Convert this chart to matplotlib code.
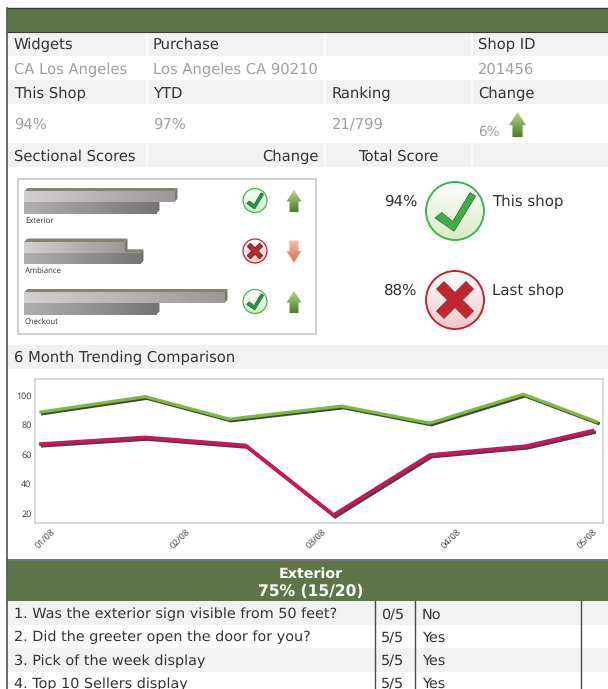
import numpy as np
import matplotlib
matplotlib.use("Agg")
import matplotlib.pyplot as plt
from matplotlib.colors import LinearSegmentedColormap
from matplotlib.patches import Circle, Polygon, Rectangle
import matplotlib.patheffects as pe

W, H = 608, 689

# header table
row1 = ["Widgets", "Purchase", "Shop ID"]
row2 = ["CA Los Angeles", "Los Angeles CA 90210", "201456"]
row3 = ["This Shop", "YTD", "Ranking", "Change"]
row4 = ["94%", "97%", "21/799"]
change_value = "6%"

# sectional scores
sections = ["Exterior", "Ambiance", "Checkout"]
this_scores = [75, 50, 100]
last_scores = [66, 58, 66]
section_ok = [True, False, True]

# 6 month trend, x in months after 01/08
months = ["01/08", "02/08", "03/08", "04/08", "05/08"]
green_x = [-0.03, 0.74, 1.36, 2.19, 2.84, 3.53, 4.07]
green_y = [88.5, 98.9, 83.7, 92.5, 81.0, 100.5, 82.0]
pink_x = [-0.03, 0.74, 1.48, 2.13, 2.84, 3.55, 4.04]
pink_y = [66.9, 71.4, 66.0, 19.0, 59.5, 65.5, 75.9]
trend_ticks = [20, 40, 60, 80, 100]

# question table
questions = ["1. Was the exterior sign visible from 50 feet?",
             "2. Did the greeter open the door for you?",
             "3. Pick of the week display",
             "4. Top 10 Sellers display"]
points = ["0/5", "5/5", "5/5", "5/5"]
answers = ["No", "Yes", "Yes", "Yes"]

GREEN = "#5e7547"
STRIPE = "#f1f2f4"
DARK = "#333333"
MUTED = "#a0a0a0"
FS = 10.6

CHECK = [(-.69, .24), (-.46, .05), (-.08, .36), (.52, -.64), (.71, -.51), (-.03, .70)]
CROSS = [(-.64, -.38), (-.38, -.64), (0, -.26), (.38, -.64), (.64, -.38), (.26, 0),
         (.64, .38), (.38, .64), (0, .26), (-.38, .64), (-.64, .38), (-.26, 0)]
UP = [(0, -1), (1, .05), (.6, .05), (.6, 1), (-.6, 1), (-.6, .05), (-1, .05)]


def gradient(ax, patch, extent, c1, c2, horizontal=False, zorder=2):
    cmap = LinearSegmentedColormap.from_list("g", [c1, c2])
    g = np.linspace(0, 1, 64).reshape(-1, 1)
    if horizontal:
        g = g.T
    im = ax.imshow(g, cmap=cmap, extent=extent, aspect="auto", origin="upper", zorder=zorder)
    ax.add_patch(patch)
    patch.set_facecolor("none")
    patch.set_edgecolor("none")
    im.set_clip_path(patch)


def badge(ax, cx, cy, r, ok):
    edge, low, mark, pts = ("#3cb54a", "#d9e9c6", "#38b04a", CHECK) if ok else ("#c4202e", "#f0c8c8", "#c4242e", CROSS)
    small = r < 20
    back = Circle((cx, cy), r, transform=ax.transData)
    gradient(ax, back, (cx - r, cx + r, cy + r, cy - r), "#ffffff", low)
    ax.add_patch(Circle((cx, cy), r, fc="none", ec=edge, lw=0.5 + r * 0.03, zorder=3))
    if small and ok:
        mark = "#1f9a4a"
    ax.add_patch(Polygon([(cx + x * r, cy + y * r) for x, y in pts], fc=mark,
                         ec="#1b7a3e" if small and ok else "#4a3a30", lw=0.7 if small else 0.4, zorder=4))


def arrow(ax, cx, cy, w, h, up=True):
    sign = 1 if up else -1
    pts = [(cx + x * w / 2, cy + sign * y * h / 2) for x, y in UP]
    c1, c2 = ("#b5d77e", "#4d7c2e") if up else ("#f9c0b0", "#e06a58")
    gradient(ax, Polygon(pts), (cx - w / 2, cx + w / 2, cy + h / 2, cy - h / 2), c1, c2)


def draw_page(ax):
    ax.set_xlim(0, W)
    ax.set_ylim(H, 0)
    ax.axis("off")

    def band(y0, y1, color=STRIPE):
        ax.add_patch(Rectangle((7, y0), W - 7, y1 - y0, fc=color, ec="none", zorder=1))

    def txt(x, y, s, color=DARK, size=FS, **kw):
        ax.text(x, y, s, color=color, fontsize=size, va="baseline", zorder=5, **kw)

    for y0, y1 in [(32, 56), (80, 104), (143, 167), (345, 369), (601, 625), (648, 672)]:
        band(y0, y1)
    band(8, 32, GREEN)
    band(561, 601, GREEN)

    # column gaps of the grey rows
    for x in [147, 325, 472]:
        for y0, y1 in [(33, 56), (80, 104), (143, 167)]:
            ax.plot([x, x], [y0, y1], color="white", lw=1.2, solid_capstyle="butt", zorder=2)

    # outer frame
    ax.plot([7, W], [8, 8], color="#3c3c3c", lw=1, zorder=3)
    ax.plot([7, W], [32, 32], color="#3c3c3c", lw=0.8, zorder=3)
    ax.plot([7, 7], [8, H], color="#555555", lw=1.2, zorder=3)
    ax.plot([7, W], [559.5, 559.5], color="#555555", lw=1.2, zorder=3)

    for x, s in zip([14, 153, 478], row1):
        txt(x, 49, s)
    for x, s in zip([14, 153, 478], row2):
        txt(x, 74, s, color=MUTED)
    for x, s in zip([14, 153, 332, 478], row3):
        txt(x, 98, s)
    for x, s in zip([14, 153, 332], row4):
        txt(x, 128.5, s, color=MUTED)
    txt(478, 136, change_value, color=MUTED, size=9.8)
    arrow(ax, 517.5, 124.5, 17, 25)

    txt(14, 161, "Sectional Scores")
    txt(319, 161, "Change", ha="right")
    txt(358, 161, "Total Score")

    # sectional box
    ax.add_patch(Rectangle((17.5, 178.5), 298, 155, fc="white", ec="#c8c8c8", lw=1.2, zorder=2))
    for ok, cy in zip(section_ok, [200.5, 251, 301.5]):
        badge(ax, 255, cy, 12, ok)
        arrow(ax, 294, cy + 0.5, 15, 22, up=ok)

    # total score
    txt(417, 206, "94%", ha="right", size=10.8)
    txt(417, 295, "88%", ha="right", size=10.8)
    badge(ax, 455, 211, 29, True)
    badge(ax, 455, 300, 29, False)
    txt(492, 206, "This shop", size=10.8)
    txt(492, 295, "Last shop", size=10.8)

    txt(14, 362, "6 Month Trending Comparison")

    txt(310.5, 577.5, "Exterior", color="white", size=10.3, fontweight="bold", ha="center")
    txt(310.5, 596, "75% (15/20)", color="white", size=11.2, fontweight="bold", ha="center")

    for i, (q, p, a) in enumerate(zip(questions, points, answers)):
        y = 618.3 + i * 23.2
        txt(14, y, q, size=10.35)
        txt(381, y, p, size=10.35)
        txt(422, y, a, size=10.35)
    for x in [375, 415, 581]:
        ax.plot([x, x], [601, H], color="#4a4a4a", lw=1, zorder=3)


def draw_bars(fig):
    ax = fig.add_axes([24 / W, 1 - 333 / H, 213 / W, 155 / H])
    ax.patch.set_alpha(0)
    ax.axis("off")
    xlim = (0, 213 / 2.0)
    ylim = ((333 - 202.3) / 50.5, -24.3 / 50.5)
    rows = np.arange(len(sections))
    dx, dy = 3.5 / 2.0, 3.5 / 50.5

    def faces(bars, c1, c2, z):
        for b in bars:
            x1, y0, y1 = b.get_width(), b.get_y(), b.get_y() + b.get_height()
            ax.add_patch(Polygon([(0, y0), (dx, y0 - dy), (x1 + dx, y0 - dy), (x1, y0)],
                                 fc="#878372", ec="none", zorder=z))
            ax.add_patch(Polygon([(x1, y0), (x1 + dx, y0 - dy), (x1 + dx, y1 - dy), (x1, y1)],
                                 fc="#7a7666", ec="none", zorder=z))
            gradient(ax, Rectangle((0, y0), x1, y1 - y0), (0, x1, y1, y0), c1, c2,
                     horizontal=True, zorder=z + 0.5)
            b.set_visible(False)

    low = ax.barh(rows + 0.115, last_scores, height=0.23)
    top = ax.barh(rows - 0.107, this_scores, height=0.214)
    faces(low, "#b0aeae", "#777575", 2)
    faces(top, "#d4d0d2", "#9c9899", 4)
    for i, s in enumerate(sections):
        ax.text(0.5, i + 0.36, s, fontsize=5.6, family="Open Sans", color="#333333", va="center")
    ax.set_xlim(*xlim)
    ax.set_ylim(*ylim)


def draw_trend(fig):
    ax = fig.add_axes([35 / W, 1 - 523 / H, 568 / W, 144 / H])
    shadow = [pe.SimpleLineShadow(offset=(1.2, -1.2), shadow_color="#444444", alpha=1, rho=1), pe.Normal()]
    ax.plot(green_x, green_y, color="#7fba3c", lw=2.3, solid_joinstyle="miter", path_effects=shadow)
    ax.plot(pink_x, pink_y, color="#d0135f", lw=2.6, solid_joinstyle="miter", path_effects=shadow)
    ax.set_xlim(-10 / 135.5, 558 / 135.5)
    ax.set_ylim(13.6, 110.8)
    ax.set_yticks(trend_ticks)
    ax.set_xticks(range(len(months)))
    ax.set_xticklabels(months, rotation=45, ha="center", rotation_mode="default")
    ax.tick_params(length=0, labelsize=6.5, labelcolor="#333333")
    ax.tick_params(axis="x", pad=3)
    ax.tick_params(axis="y", pad=2.5)
    for t in ax.get_xticklabels() + ax.get_yticklabels():
        t.set_family("Open Sans")
    for s in ax.spines.values():
        s.set_color("#cfcfcf")
        s.set_linewidth(1.1)


def main():
    plt.rcParams["font.family"] = ["DejaVu Sans"]
    plt.rcParams["text.hinting"] = "no_hinting"
    fig = plt.figure(figsize=(W / 100, H / 100), dpi=100)
    page = fig.add_axes([0, 0, 1, 1])
    draw_page(page)
    draw_bars(fig)
    draw_trend(fig)
    fig.savefig("out.png", dpi=100)


if __name__ == "__main__":
    main()
